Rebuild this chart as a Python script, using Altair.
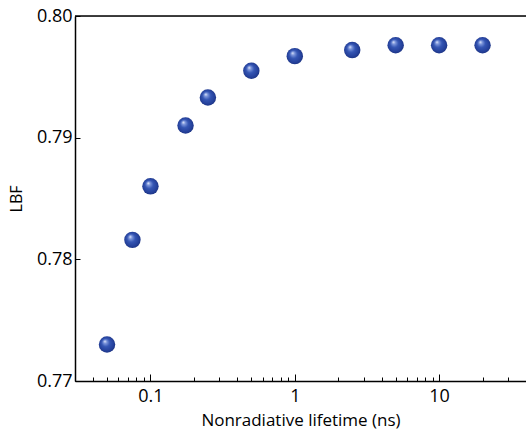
import altair as alt
import pandas as pd

lifetime = [0.05, 0.075, 0.1, 0.175, 0.25, 0.5, 1, 2.5, 5, 10, 20]
lbf = [0.7730, 0.7816, 0.7860, 0.7910, 0.7933, 0.7955, 0.7967, 0.7972, 0.7976, 0.7976, 0.7976]

x_ticks = [0.03, 0.04, 0.05, 0.06, 0.07, 0.08, 0.09, 0.1,
           0.2, 0.3, 0.4, 0.5, 0.6, 0.7, 0.8, 0.9, 1,
           2, 3, 4, 5, 6, 7, 8, 9, 10, 20, 30, 40]
y_ticks = [0.77, 0.78, 0.79, 0.80]

df = pd.DataFrame({"lifetime": lifetime, "lbf": lbf})

FONT = "Open Sans"

sphere = alt.RadialGradient(
    gradient="radial",
    x1=0.36, y1=0.30, r1=0.0,
    x2=0.5, y2=0.5, r2=0.55,
    stops=[
        alt.GradientStop(color="#eef2ff", offset=0.0),
        alt.GradientStop(color="#7f98dc", offset=0.18),
        alt.GradientStop(color="#3556b4", offset=0.45),
        alt.GradientStop(color="#24409a", offset=0.8),
        alt.GradientStop(color="#1b2f78", offset=1.0),
    ],
)

x_enc = alt.X(
    "lifetime:Q",
    scale=alt.Scale(type="log", domain=[0.03, 40], nice=False),
    axis=alt.Axis(
        title="Nonradiative lifetime (ns)",
        values=x_ticks,
        labelExpr="datum.value == 0.1 ? '0.1' : datum.value == 1 ? '1' : datum.value == 10 ? '10' : ''",
        tickSize={"expr": "datum.value == 0.1 || datum.value == 1 || datum.value == 10 ? -7 : -4"},
        labelPadding=13,
        grid=False,
        domainColor="black",
        domainWidth=1.5,
        tickColor="black",
        labelFont=FONT,
        labelFontSize=18,
        labelColor="black",
        titleFont=FONT,
        titleFontSize=17,
        titleFontWeight="normal",
        titleColor="black",
        titlePadding=7,
    ),
)

y_enc = alt.Y(
    "lbf:Q",
    scale=alt.Scale(domain=[0.77, 0.80], nice=False, zero=False),
    axis=alt.Axis(
        title="LBF",
        values=y_ticks,
        format=".2f",
        tickSize={"expr": "-5"},
        labelPadding=8,
        grid=False,
        domainColor="black",
        domainWidth=1.5,
        tickColor="black",
        labelFont=FONT,
        labelFontSize=18,
        labelColor="black",
        titleFont=FONT,
        titleFontSize=16,
        titleFontWeight="normal",
        titleColor="black",
        titlePadding=12,
    ),
)

points = alt.Chart(df).mark_point(
    shape="circle", filled=True, fill=sphere, size=270, opacity=1, strokeWidth=0
).encode(x=x_enc, y=y_enc)

top = alt.Chart(pd.DataFrame({"v": [0.80]})).mark_rule(
    color="black", strokeWidth=1.5
).encode(y=alt.Y("v:Q"))

chart = (
    alt.layer(top, points)
    .properties(
        width=451,
        height=365,
        autosize=alt.AutoSizeParams(type="none"),
        padding={"left": 75, "top": 16, "right": 0, "bottom": 51},
    )
    .configure_view(stroke=None)
    .configure(background="white")
)

chart.save("out.html", embed_options={"renderer": "svg", "actions": False})
